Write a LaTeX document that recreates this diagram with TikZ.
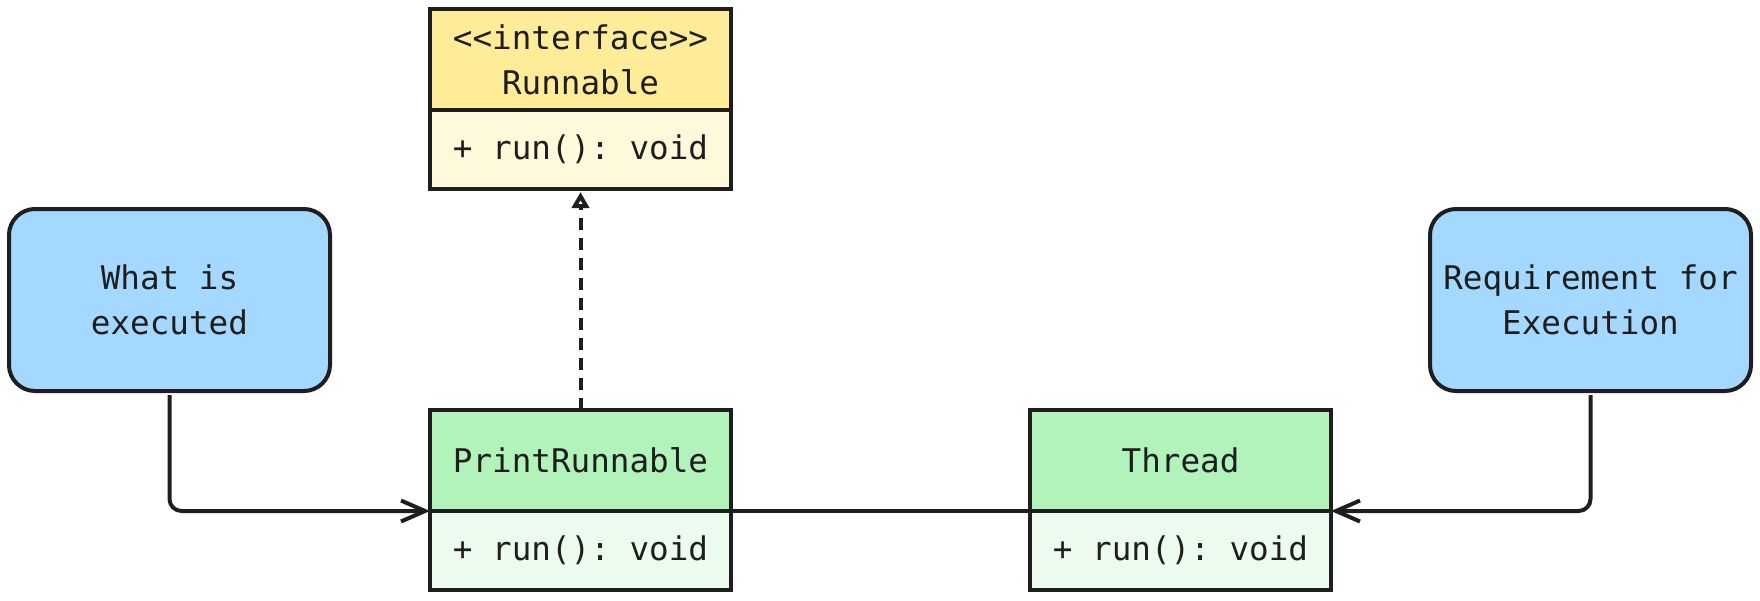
\documentclass[tikz,border=0pt]{standalone}
\usepackage{fontspec}
\setmonofont{DejaVu Sans Mono}
\usetikzlibrary{arrows.meta}
\definecolor{ink}{HTML}{1E1E1E}
\definecolor{yelH}{HTML}{FFEC99}
\definecolor{yelB}{HTML}{FFF9DB}
\definecolor{grnH}{HTML}{B2F2BB}
\definecolor{grnB}{HTML}{EBFBEE}
\definecolor{blu}{HTML}{A5D8FF}
\tikzset{
  lbl/.style={font=\ttfamily\fontsize{16.3}{22.5}\selectfont, text=ink, align=center, inner sep=0pt, outer sep=0pt},
  umlpart/.style={lbl, draw=ink, line width=2pt, minimum width=150.5pt},
  hdr/.style={umlpart, minimum height=50.5pt},
  bdy/.style={umlpart, minimum height=39.5pt},
  note/.style={lbl, draw=ink, line width=2pt, fill=blu, rounded corners=13pt, minimum width=160.5pt, minimum height=91pt},
  conn/.style={draw=ink, line width=2pt, rounded corners=6pt},
  barb/.style={-{Straight Barb[length=12pt,width=10.5pt,line width=2pt]}},
  real/.style={dash pattern=on 6pt off 4pt, -{Triangle[open,length=8pt,width=8.5pt,line width=2pt]}}
}
\begin{document}
\begin{tikzpicture}[x=0.5pt,y=-0.5pt]
\useasboundingbox (0,0) rectangle (1760,600);
% Runnable
\node[hdr, fill=yelH, anchor=north west] (runH) at (430,9) {<<interface>>\\Runnable};
\node[bdy, fill=yelB, anchor=north] (runB) at (runH.south) {+ run(): void};
% PrintRunnable
\node[hdr, fill=grnH, anchor=north west] (prH) at (430,410) {PrintRunnable};
\node[bdy, fill=grnB, anchor=north] (prB) at (prH.south) {+ run(): void};
% Thread
\node[hdr, fill=grnH, anchor=north west] (thH) at (1030,410) {Thread};
\node[bdy, fill=grnB, anchor=north] (thB) at (thH.south) {+ run(): void};
% notes
\node[note, anchor=north west] (what) at (9,209) {What is\\executed};
\node[note, anchor=north west] (req) at (1430,209) {Requirement for\\Execution};
% connectors
\draw[conn, real] (prH.north) -- ([yshift=-1.5pt]runB.south);
\draw[conn, barb] ([yshift=-2pt]what.south) |- (prH.south west);
\draw[conn, barb] ([yshift=-2pt]req.south) |- (thH.south east);
\draw[conn] (prH.south east) -- (thH.south west);
\end{tikzpicture}
\end{document}
